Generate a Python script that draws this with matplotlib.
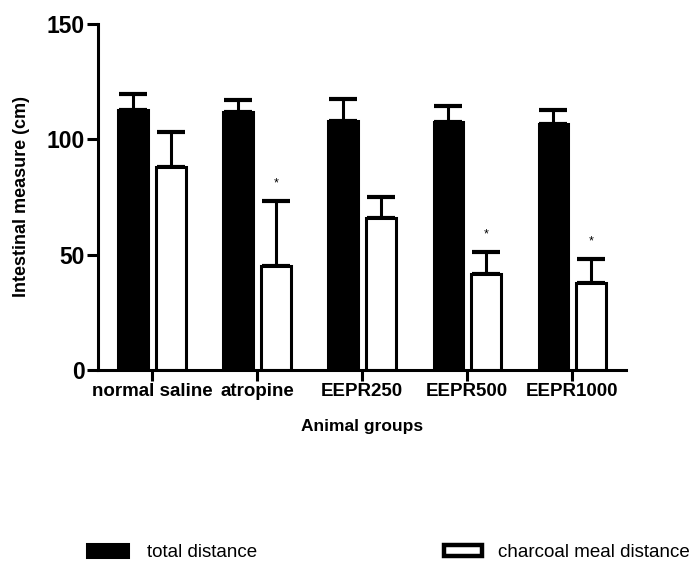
import numpy as np
import matplotlib.pyplot as plt
from matplotlib.patches import Patch

plt.rcParams['font.family'] = ['Liberation Sans', 'DejaVu Sans']

groups = ['normal saline', 'atropine', 'EEPR250', 'EEPR500', 'EEPR1000']
total = [112.7, 111.7, 108.1, 107.6, 106.5]
total_err = [6.8, 5.5, 9.4, 7.0, 6.2]
charcoal = [88.1, 45.2, 65.7, 41.6, 37.8]
charcoal_err = [14.9, 27.9, 9.3, 9.4, 10.3]
stars = ['', '*', '', '*', '*']

x = np.arange(len(groups))
w = 0.28
off = 0.18
lw = 2.2

fig = plt.figure(figsize=(6.95, 5.62), dpi=100)
ax = fig.add_axes([0.141, 0.342, 0.76, 0.615])

ax.bar(x - off, total, w, color='black', edgecolor='black', linewidth=lw, zorder=2)
ax.bar(x + off, charcoal, w, color='white', edgecolor='black', linewidth=lw, zorder=2)

ekw = dict(fmt='none', ecolor='black', elinewidth=lw, capsize=10, capthick=lw + 0.8, zorder=1)
ax.errorbar(x - off, total, yerr=[np.zeros(5), total_err], **ekw)
ax.errorbar(x + off, charcoal, yerr=[np.zeros(5), charcoal_err], **ekw)

for xi, v, e, s in zip(x, charcoal, charcoal_err, stars):
    if s:
        ax.text(xi + off, v + e + 5, s, ha='center', va='bottom', fontsize=9)

ax.set_xlim(-0.514, 4.514)
ax.set_ylim(0, 150)
ax.set_yticks([0, 50, 100, 150])
ax.set_xticks(x)
ax.set_xticklabels(groups, fontsize=13.5, fontweight='bold')
for t in ax.get_yticklabels():
    t.set_fontsize(16.5)
    t.set_fontweight('bold')

for side in ['top', 'right']:
    ax.spines[side].set_visible(False)
for side in ['left', 'bottom']:
    ax.spines[side].set_linewidth(lw)
ax.tick_params(axis='both', width=lw, length=8, pad=1.5)

ax.set_ylabel('Intestinal measure (cm)', fontsize=13, fontweight='bold', labelpad=12)
ax.set_xlabel('Animal groups', fontsize=12.5, fontweight='bold', labelpad=14)

fig.legend(handles=[Patch(facecolor='black', edgecolor='black', linewidth=lw)],
           labels=['total distance'], loc='center left', bbox_to_anchor=(0.125, 0.017),
           frameon=False, fontsize=13.5, handlelength=2.2, handleheight=0.7,
           handletextpad=1.0, borderpad=0, borderaxespad=0)
fig.legend(handles=[Patch(facecolor='white', edgecolor='black', linewidth=lw + 1)],
           labels=['charcoal meal distance'], loc='center left', bbox_to_anchor=(0.639, 0.017),
           frameon=False, fontsize=13.5, handlelength=2.0, handleheight=0.5,
           handletextpad=0.9, borderpad=0, borderaxespad=0)

fig.savefig('out.png', dpi=100)
